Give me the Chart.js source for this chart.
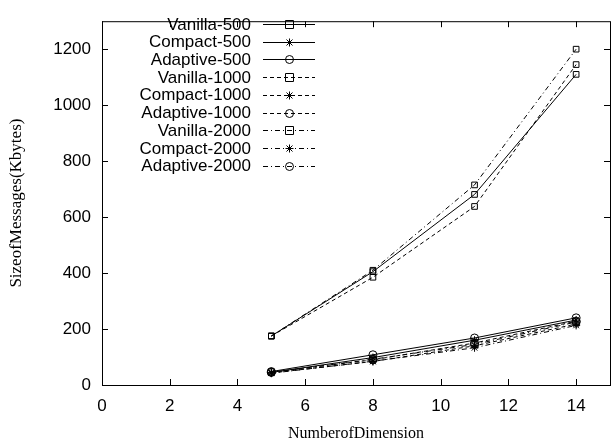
<!DOCTYPE html>
<html>
<head>
<meta charset="utf-8">
<script src="https://cdn.jsdelivr.net/npm/chart.js@4/dist/chart.umd.min.js"></script>
<style>
  html, body { margin: 0; padding: 0; overflow: hidden; background: #fff; }
  #wrap { width: 615px; height: 440px; }
</style>
</head>
<body>
<div id="wrap"><canvas id="linea"></canvas></div>
<script>
// Datos del gráfico: tamaño de mensajes vs número de dimensiones
var dimensions = [5, 8, 11, 14];
var xTicks = [0, 2, 4, 6, 8, 10, 12, 14];
var yTicks = [0, 200, 400, 600, 800, 1000, 1200];

var vanilla500 = [175, 405, 681, 1110];
var compact500 = [45, 98, 160, 232];
var adaptive500 = [48, 108, 168, 240];
var vanilla1000 = [175, 385, 638, 1145];
var compact1000 = [43, 84, 140, 218];
var adaptive1000 = [46, 90, 150, 228];
var vanilla2000 = [175, 410, 715, 1200];
var compact2000 = [42, 85, 133, 213];
var adaptive2000 = [45, 92, 145, 225];

var labels = ['Vanilla-500', 'Compact-500', 'Adaptive-500',
              'Vanilla-1000', 'Compact-1000', 'Adaptive-1000',
              'Vanilla-2000', 'Compact-2000', 'Adaptive-2000'];
var values = [vanilla500, compact500, adaptive500,
              vanilla1000, compact1000, adaptive1000,
              vanilla2000, compact2000, adaptive2000];
var markers = ['rect', 'star', 'circle'];
var dashes = [[], [4, 3], [5, 3, 1, 3]];

var datasets = labels.map(function (name, i) {
    return {
        label: name,
        data: dimensions.map(function (d, j) { return { x: d, y: values[i][j] }; }),
        borderColor: '#000',
        borderWidth: 1,
        borderDash: dashes[Math.floor(i / 3)],
        pointStyle: markers[i % 3],
        pointRadius: 4,
        pointBorderWidth: 1,
        pointBorderColor: '#000',
        pointBackgroundColor: 'rgba(0,0,0,0)',
        fill: false,
        tension: 0
    };
});

// marcador simple al estilo gnuplot
function marker(ctx, style, x, y, r) {
    ctx.beginPath();
    if (style === 'rect') {
        ctx.rect(x - r, y - r, 2 * r, 2 * r);
    } else if (style === 'circle') {
        ctx.arc(x, y, r, 0, Math.PI * 2);
    } else {
        var d = r * 0.75;
        ctx.moveTo(x - r, y); ctx.lineTo(x + r, y);
        ctx.moveTo(x, y - r); ctx.lineTo(x, y + r);
        ctx.moveTo(x - d, y - d); ctx.lineTo(x + d, y + d);
        ctx.moveTo(x - d, y + d); ctx.lineTo(x + d, y - d);
    }
    ctx.stroke();
}

// Marco, marcas hacia adentro y leyenda
var gnuplotStyle = {
    id: 'gnuplotStyle',
    afterDraw: function (chart) {
        var ctx = chart.ctx;
        var a = chart.chartArea;
        var sx = chart.scales.x, sy = chart.scales.y;
        ctx.save();
        ctx.strokeStyle = '#000';
        ctx.lineWidth = 1;
        ctx.setLineDash([]);
        ctx.strokeRect(a.left + 0.5, a.top + 0.5, a.right - a.left, a.bottom - a.top);
        ctx.beginPath();
        xTicks.forEach(function (t) {
            var px = Math.round(sx.getPixelForValue(t)) + 0.5;
            ctx.moveTo(px, a.bottom); ctx.lineTo(px, a.bottom - 6);
            ctx.moveTo(px, a.top); ctx.lineTo(px, a.top + 6);
        });
        yTicks.forEach(function (t) {
            var py = Math.round(sy.getPixelForValue(t)) + 0.5;
            ctx.moveTo(a.left, py); ctx.lineTo(a.left + 6, py);
            ctx.moveTo(a.right, py); ctx.lineTo(a.right - 6, py);
        });
        ctx.stroke();

        ctx.font = '17px "Liberation Sans", Arial, sans-serif';
        ctx.fillStyle = '#000';
        ctx.textAlign = 'right';
        ctx.textBaseline = 'middle';
        labels.forEach(function (name, i) {
            var y = 24 + i * 17.7;
            ctx.fillText(name, 251, y + 1);
            ctx.setLineDash(dashes[Math.floor(i / 3)]);
            ctx.beginPath();
            ctx.moveTo(263, Math.round(y) + 0.5);
            ctx.lineTo(315, Math.round(y) + 0.5);
            ctx.stroke();
            ctx.setLineDash([]);
            marker(ctx, markers[i % 3], 289.5, Math.round(y) + 0.5, 4);
        });
        ctx.restore();
    }
};

var ctx = document.getElementById('linea').getContext('2d');
var chart = new Chart(ctx, {
    type: 'line',
    data: { datasets: datasets },
    options: {
        responsive: true,
        maintainAspectRatio: false,
        animation: false,
        layout: { padding: { top: 9, right: 0, left: 0, bottom: 0 } },
        plugins: {
            legend: { display: false },
            tooltip: { enabled: false }
        },
        scales: {
            x: {
                type: 'linear',
                min: 0,
                max: 15,
                afterBuildTicks: function (s) {
                    s.ticks = xTicks.map(function (v) { return { value: v }; });
                },
                afterFit: function (s) { s.height = 55; },
                grid: { display: false, drawTicks: false },
                border: { display: false },
                ticks: {
                    color: '#000',
                    padding: 11,
                    maxRotation: 0,
                    callback: function (v) { return String(v); },
                    font: { family: '"Liberation Sans", Arial, sans-serif', size: 17 }
                },
                title: {
                    display: true,
                    text: 'NumberofDimension',
                    color: '#000',
                    padding: { top: 0, bottom: -3 },
                    font: { family: '"Liberation Serif", "Times New Roman", serif', size: 16 }
                }
            },
            y: {
                type: 'linear',
                min: 0,
                max: 1300,
                afterBuildTicks: function (s) {
                    s.ticks = yTicks.map(function (v) { return { value: v }; });
                },
                afterFit: function (s) { s.width = 102; },
                grid: { display: false, drawTicks: false },
                border: { display: false },
                ticks: {
                    color: '#000',
                    padding: 11,
                    callback: function (v) { return String(v); },
                    font: { family: '"Liberation Sans", Arial, sans-serif', size: 17 }
                },
                title: {
                    display: true,
                    text: 'SizeofMessages(Kbytes)',
                    color: '#000',
                    padding: { top: 6, bottom: 0 },
                    font: { family: '"Liberation Serif", "Times New Roman", serif', size: 17 }
                }
            }
        }
    },
    plugins: [gnuplotStyle]
});
</script>
</body>
</html>
